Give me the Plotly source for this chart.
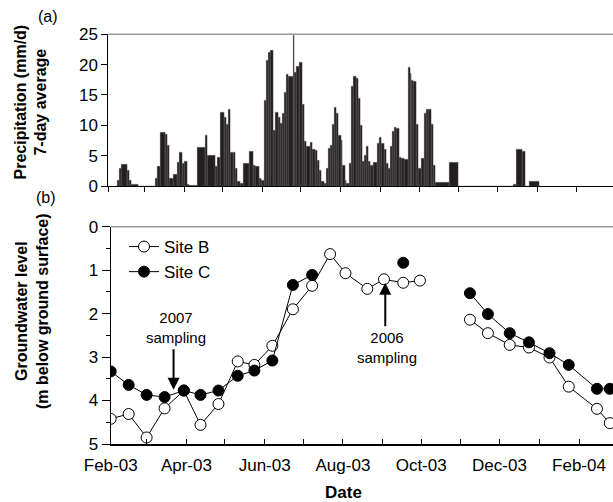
import pandas as pd
import plotly.graph_objects as go

# ---------------- data ----------------
# (a) 7-day average precipitation: step segments (start day after 2003-02-01, value mm/d)
precip_start_day = [7.3, 8.3, 9.9, 15.1, 16.1, 17.7, 23.4, 36.4, 38.2, 40.3, 44.2, 45.7, 47.5,
                    50.4, 54.0, 55.6, 57.9, 59.2, 61.8, 63.4, 69.6, 75.3, 77.4, 83.1, 85.2,
                    87.5, 90.4, 92.2, 93.2, 95.3, 97.4, 98.7, 100.5, 102.6, 105.2, 109.6,
                    112.9, 114.2, 117.4, 119.4, 121.5, 123.3, 124.6, 126.4, 128.5, 130.3,
                    132.4, 134.2, 135.5, 137.0, 138.4, 140.2, 143.9, 144.9, 146.7, 148.8,
                    150.9, 152.4, 154.5, 157.6, 159.2, 161.0, 162.8, 164.3, 166.2, 168.2,
                    170.1, 171.4, 172.6, 174.7, 176.0, 177.8, 179.4, 181.2, 182.5, 184.3,
                    185.6, 187.7, 189.5, 190.8, 192.9, 194.7, 196.0, 197.6, 199.1, 200.7,
                    202.8, 204.3, 206.4, 209.5, 211.1, 212.9, 214.8, 216.3, 218.1, 219.4,
                    221.0, 222.5, 224.6, 226.7, 228.5, 230.3, 233.7, 235.0, 236.3, 237.6,
                    240.2, 241.7, 244.1, 245.9, 247.4, 249.3, 251.9, 253.2, 254.8, 265.6,
                    272.6, 315.4, 317.5, 322.7, 325.1, 327.6, 335.4]
precip_mm_d = [0.9, 2.9, 3.5, 2.6, 0.9, 0.3, 0.0, 1.3, 3.3, 8.8, 8.5, 6.7, 1.3,
               1.9, 3.9, 5.5, 3.7, 4.0, 0.2, 0.1, 6.4, 8.3, 5.1, 3.2, 4.7,
               12.2, 11.4, 10.1, 12.6, 5.5, 5.6, 3.0, 0.7, 0.5, 3.8, 5.8,
               3.4, 3.2, 1.2, 0.9, 14.2, 20.7, 22.0, 22.4, 9.1, 12.1,
               11.4, 10.3, 11.9, 15.5, 18.4, 18.0, 24.9, 18.8, 19.8, 20.4,
               13.4, 7.3, 6.5, 7.2, 6.1, 5.9, 4.3, 2.6, 0.8, 0.5,
               3.0, 6.2, 6.7, 10.1, 12.9, 12.0, 8.4, 7.6, 3.4, 0.9,
               0.4, 3.7, 16.4, 18.1, 17.7, 14.5, 10.0, 4.0, 5.1, 6.5,
               4.0, 3.4, 3.9, 7.0, 8.1, 7.0, 6.1, 3.7, 3.0, 6.5,
               9.0, 9.6, 9.5, 4.8, 4.5, 4.4, 19.5, 18.6, 17.5, 17.3,
               10.1, 3.0, 4.5, 12.0, 12.6, 12.6, 10.2, 3.4, 0.6, 3.9,
               0.0, 0.3, 6.1, 5.8, 0.0, 0.7, 0.0]

# (b) groundwater level (m below ground surface)
gw_dates = ["2003-02-01", "2003-02-15", "2003-03-01", "2003-03-15", "2003-03-30",
            "2003-04-12", "2003-04-26", "2003-05-11", "2003-05-24", "2003-06-07",
            "2003-06-23", "2003-07-08", "2003-07-22", "2003-08-03", "2003-08-20",
            "2003-09-02", "2003-09-17", "2003-09-30", "2003-10-20", "2003-11-08",
            "2003-11-22", "2003-12-09", "2003-12-24", "2004-01-09", "2004-01-24",
            "2004-02-15", "2004-02-25"]
site_b = [4.42, 4.31, 4.85, 4.18, 3.77, 4.56, 4.08, 3.10, 3.18, 2.74, 1.90, 1.36, 0.63,
          1.07, 1.43, 1.21, 1.29, 1.24, None, 2.14, 2.45, 2.72, 2.78, 3.01, 3.68, 4.19, 4.52]
site_c = [3.33, 3.64, 3.87, 3.92, 3.77, 3.87, 3.77, 3.43, 3.31, 3.08, 1.34, 1.11, None,
          None, None, None, 0.83, None, None, 1.53, 2.01, 2.45, 2.66, 2.91, 3.18, 3.73, 3.73]

month_labels_fmt = "%b-%y"

# ---------------- figure ----------------
W, H = 613, 502
FONT = "Liberation Sans, Arial, Helvetica, sans-serif"
base = pd.Timestamp("2003-02-01")
day_ms = 86400000.0

starts = [base + pd.Timedelta(days=d) for d in precip_start_day]
ends = precip_start_day[1:] + [precip_start_day[-1] + 1]
widths = [(e - s) * day_ms for s, e in zip(precip_start_day, ends)]

fig = go.Figure()
fig.add_trace(go.Bar(x=starts, y=precip_mm_d, width=widths, offset=0,
                     marker=dict(color="#231f20", line=dict(color="#7a7a7a", width=0.3)),
                     xaxis="x", yaxis="y", showlegend=False))

gw_x = pd.to_datetime(gw_dates)
fig.add_trace(go.Scatter(x=gw_x, y=site_b, mode="lines+markers", name="Site B",
                         line=dict(color="black", width=1),
                         marker=dict(symbol="circle", size=11, color="white",
                                     line=dict(color="black", width=1)),
                         connectgaps=False, xaxis="x2", yaxis="y2"))
fig.add_trace(go.Scatter(x=gw_x, y=site_c, mode="lines+markers", name="Site C",
                         line=dict(color="black", width=1),
                         marker=dict(symbol="circle", size=11, color="black",
                                     line=dict(color="black", width=1)),
                         connectgaps=False, xaxis="x2", yaxis="y2"))

def fx(p):
    return p / W

def fy(p):
    return 1 - p / H

top_y0, top_y1 = 186.0, 34.3
bot_y0, bot_y1 = 444.0, 226.7
top_x0, bot_x0 = 108.3, 110.7

tickfont = dict(family=FONT, size=17, color="black")

fig.update_layout(
    width=W, height=H,
    margin=dict(l=0, r=0, t=0, b=0, autoexpand=False),
    paper_bgcolor="white", plot_bgcolor="white",
    font=dict(family=FONT, size=16, color="black"),
    bargap=0,
    xaxis=dict(domain=[fx(top_x0), 1], anchor="y", type="date", automargin=False,
               range=[base, base + pd.Timedelta(days=393.1)],
               showline=True, linecolor="black", linewidth=1,
               ticks="outside", ticklen=5, tickcolor="black", tickwidth=1,
               dtick="M1", tick0="2003-02-01", showticklabels=False,
               showgrid=False, zeroline=False),
    yaxis=dict(domain=[fy(top_y0), fy(top_y1)], anchor="x", automargin=False,
               range=[0, 25], dtick=5, tickfont=tickfont,
               showline=True, linecolor="black", linewidth=1,
               ticks="outside", ticklen=6, tickcolor="black",
               showgrid=False, zeroline=False),
    xaxis2=dict(domain=[fx(bot_x0), 1], anchor="y2", type="date", automargin=False,
                range=[base, base + pd.Timedelta(days=391.5)],
                showline=True, linecolor="black", linewidth=1.5,
                ticks="inside", ticklen=5, tickcolor="black", tickwidth=1,
                dtick="M2", tick0="2003-02-01", tickformat=month_labels_fmt,
                tickfont=tickfont, ticklabelstandoff=5,
                minor=dict(dtick="M1", tick0="2003-02-01", ticks="inside", ticklen=5,
                           tickcolor="black", showgrid=False),
                showgrid=False, zeroline=False),
    yaxis2=dict(domain=[fy(bot_y0), fy(bot_y1)], anchor="x2", automargin=False,
                range=[5, 0], dtick=1, tickfont=tickfont,
                showline=True, linecolor="black", linewidth=1,
                ticks="outside", ticklen=8, tickcolor="black",
                minor=dict(dtick=0.5, ticks="outside", ticklen=4, tickcolor="black",
                           showgrid=False),
                showgrid=False, zeroline=False),
    legend=dict(x=fx(124), y=fy(229), xanchor="left", yanchor="top",
                bgcolor="rgba(0,0,0,0)", font=dict(family=FONT, size=17),
                tracegroupgap=0, itemwidth=30),
    showlegend=True,
)

# gray top borders of each panel
for yy, x0 in [(top_y1, top_x0), (bot_y1, bot_x0)]:
    fig.add_shape(type="line", xref="paper", yref="paper",
                  x0=fx(x0), x1=1, y0=fy(yy), y1=fy(yy),
                  line=dict(color="#999999", width=1.5))

def label(text, px, py, size=16, angle=0):
    return dict(text=text, x=fx(px), y=fy(py), xref="paper", yref="paper",
                xanchor="center", yanchor="middle", textangle=angle,
                showarrow=False, font=dict(family=FONT, size=size))

ann = [
    label("<b>Precipitation (mm/d)<br>7-day average</b>", 30.5, 102, angle=-90),
    label("<b>Groundwater level<br>(m below ground surface)</b>", 32, 311, angle=-90),
    label("(a)", 48, 17),
    label("(b)", 46, 197),
    label("<b>Date</b>", 343, 492, size=17),
]
# sampling labels
ann.append(dict(text="2007<br>sampling", x="2003-03-24", y=2.33, xref="x2", yref="y2",
                xanchor="center", yanchor="middle",
                showarrow=False, font=dict(family=FONT, size=15)))
ann.append(dict(text="", x="2003-03-22", y=3.75, xref="x2", yref="y2",
                showarrow=True, ax=0, ay=-42, arrowhead=2, arrowsize=1.2,
                arrowwidth=2, arrowcolor="black"))
ann.append(dict(text="2006<br>sampling", x="2003-09-04", y=2.77, xref="x2", yref="y2",
                xanchor="center", yanchor="middle",
                showarrow=False, font=dict(family=FONT, size=15)))
ann.append(dict(text="", x="2003-09-03", y=1.29, xref="x2", yref="y2",
                showarrow=True, ax=0, ay=45, arrowhead=2, arrowsize=1.2,
                arrowwidth=2, arrowcolor="black"))
fig.update_layout(annotations=ann)

fig.write_html("out.html", config={"displayModeBar": False},
               post_script="document.body.style.margin='0px';"
                           "document.body.style.overflow='hidden';")
